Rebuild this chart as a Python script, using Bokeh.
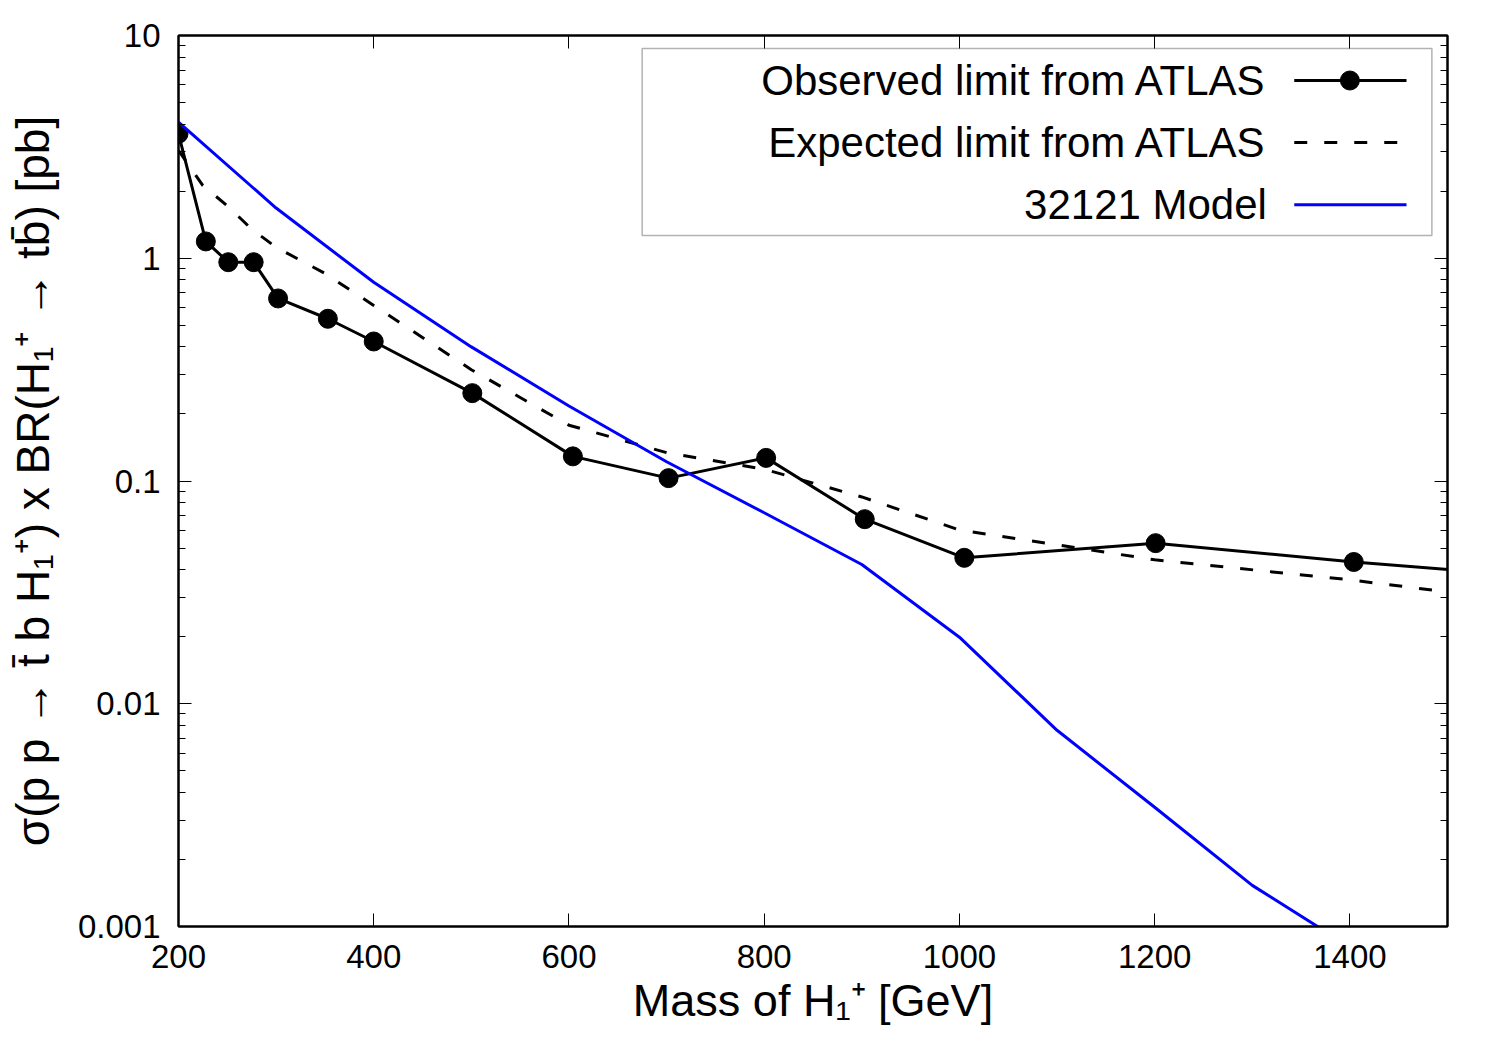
from bokeh.plotting import figure
from bokeh.models import (FixedTicker, LogAxis, LinearAxis, BoxAnnotation, Label, Range1d)
from bokeh.embed import file_html
from bokeh.resources import INLINE

# ---------------- data ----------------
obs_mass = [200, 228, 251, 277, 302, 353, 400, 501, 604, 702, 802, 903, 1005, 1201, 1404, 1600]
obs_xsec = [3.62, 1.19, 0.96, 0.96, 0.66, 0.535, 0.423, 0.248, 0.129, 0.103, 0.127, 0.0674,
            0.0452, 0.0526, 0.0433, 0.037]

exp_mass = [200, 225, 250, 275, 300, 350, 400, 500, 600, 700, 800, 900, 1000, 1200, 1400, 1600]
exp_xsec = [3.05, 2.12, 1.72, 1.35, 1.12, 0.855, 0.614, 0.316, 0.178, 0.134, 0.113, 0.0848,
            0.0603, 0.0443, 0.0360, 0.028]

model_mass = [200, 300, 400, 500, 600, 700, 800, 900, 1000, 1100, 1200, 1300, 1400]
model_xsec = [4.08, 1.68, 0.78, 0.40, 0.217, 0.122, 0.072, 0.0422, 0.0199, 0.0076, 0.00343,
              0.00153, 0.00081]

x_ticks = [200, 400, 600, 800, 1000, 1200, 1400]
y_ticks = [0.001, 0.01, 0.1, 1, 10]
y_tick_labels = ["0.001", "0.01", "0.1", "1", "10"]
y_minor = [m * 10.0 ** k for k in range(-3, 1) for m in range(2, 10)]

legend_labels = ["Observed limit from ATLAS", "Expected limit from ATLAS", "32121 Model"]

x_label = "Mass of H\u2081\u207a [GeV]"
y_label = "\u03c3(p p \u2192 t\u0304 b H\u2081\u207a) x BR(H\u2081\u207a \u2192 tb\u0304) [pb]"

# ---------------- styling ----------------
FONT = "Liberation Sans"
BLUE = "#0000ff"
TICK_FS = "33px"
XLABEL_FS = "45px"
YLABEL_FS = "46px"
LEG_FS = "42px"

p = figure(width=1490, height=1040,
           x_range=Range1d(200, 1500), y_range=Range1d(0.001, 10),
           y_axis_type="log", output_backend="svg", toolbar_location=None,
           min_border_left=178, min_border_right=43, min_border_top=35, min_border_bottom=114)

p.xgrid.visible = False
p.ygrid.visible = False
p.outline_line_color = "black"
p.outline_line_width = 2
p.background_fill_color = "white"
p.border_fill_color = "white"

xt = FixedTicker(ticks=x_ticks, minor_ticks=[])
yt = FixedTicker(ticks=y_ticks, minor_ticks=y_minor)

def style_axis(ax, show_labels=True):
    ax.axis_line_color = "black"
    ax.axis_line_width = 2
    ax.major_tick_in = 13
    ax.major_tick_out = 0
    ax.minor_tick_in = 7
    ax.minor_tick_out = 0
    ax.major_tick_line_color = "black"
    ax.minor_tick_line_color = "black"
    ax.major_tick_line_width = 1
    ax.minor_tick_line_width = 1
    ax.major_label_text_font = FONT
    ax.major_label_text_color = "black"
    ax.axis_label_text_font = FONT
    ax.axis_label_text_font_style = "normal"
    ax.axis_label_text_color = "black"
    if show_labels:
        ax.major_label_text_font_size = TICK_FS
    else:
        ax.major_label_text_font_size = "0px"
        ax.major_label_standoff = 0

xa = p.xaxis[0]
xa.ticker = xt
style_axis(xa)
xa.axis_label = x_label
xa.axis_label_text_font_size = XLABEL_FS
xa.major_label_standoff = 18
xa.axis_label_standoff = 4

ya = p.yaxis[0]
ya.ticker = yt
style_axis(ya)
ya.axis_label = y_label
ya.axis_label_text_font_size = YLABEL_FS
ya.major_label_overrides = dict(zip(y_ticks, y_tick_labels))
ya.major_label_standoff = 18
ya.axis_label_standoff = 16

ra = LogAxis(ticker=yt)
style_axis(ra, show_labels=False)
ra.major_label_overrides = {t: "" for t in y_ticks}
p.add_layout(ra, "right")

ta = LinearAxis(ticker=xt)
style_axis(ta, show_labels=False)
ta.major_label_overrides = {t: "" for t in x_ticks}
p.add_layout(ta, "above")

# ---------------- series ----------------
p.line(exp_mass, exp_xsec, line_color="black", line_width=3, line_dash="13 17")
p.line(obs_mass, obs_xsec, line_color="black", line_width=3)
p.scatter(obs_mass, obs_xsec, size=19, fill_color="black", line_color="black")
p.line(model_mass, model_xsec, line_color=BLUE, line_width=3)

# ---------------- legend (gnuplot style: text then sample) ----------------
LEG_LEFT, LEG_RIGHT, LEG_TOP, LEG_BOTTOM = 675, 1484, 8.74, 1.265
ROW_Y = [6.28, 3.31, 1.74]
TEXT_X = 1315
SAMPLE_X0, SAMPLE_X1, SAMPLE_MID = 1343, 1458, 1400

p.add_layout(BoxAnnotation(left=LEG_LEFT, right=LEG_RIGHT, top=LEG_TOP, bottom=LEG_BOTTOM,
                           fill_color="white", fill_alpha=1.0, line_color="black",
                           line_width=1.5, level="underlay"))
for lab, yy in zip(legend_labels, ROW_Y):
    p.add_layout(Label(x=TEXT_X, y=yy, text=lab, text_align="right", text_baseline="middle",
                       text_font=FONT, text_font_size=LEG_FS, text_color="black"))

p.line([SAMPLE_X0, SAMPLE_X1], [ROW_Y[0], ROW_Y[0]], line_color="black", line_width=3)
p.scatter([SAMPLE_MID], [ROW_Y[0]], size=19, fill_color="black", line_color="black")
p.line([SAMPLE_X0, SAMPLE_X1], [ROW_Y[1], ROW_Y[1]], line_color="black", line_width=3,
       line_dash="13 17")
p.line([SAMPLE_X0, SAMPLE_X1], [ROW_Y[2], ROW_Y[2]], line_color=BLUE, line_width=3)

open("out.html", "w").write(file_html(p, INLINE))
